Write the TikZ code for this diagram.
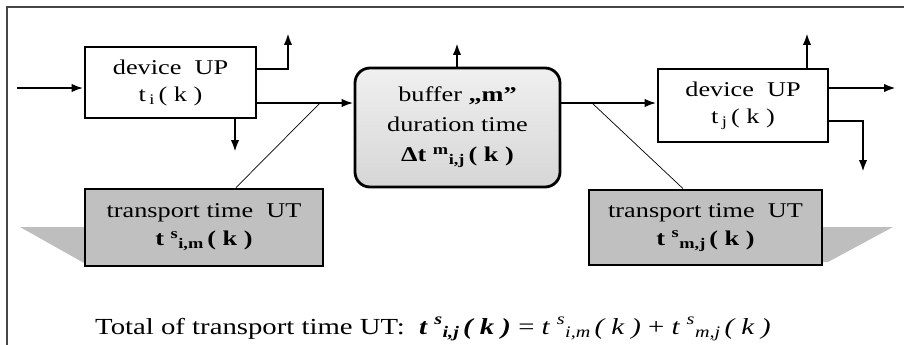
\documentclass[tikz,border=0pt]{standalone}
\usepackage{fontspec}
\setmainfont{Liberation Serif}[FakeStretch=1.25]
\usetikzlibrary{arrows.meta}

\definecolor{boxgray}{RGB}{192,192,192}
\definecolor{shadowgray}{RGB}{190,190,190}
\definecolor{framegray}{RGB}{70,70,70}

\tikzset{
  unitbox/.style={draw=black, line width=2.8pt, fill=white, align=center,
    inner sep=0pt, font=\fontsize{21}{27}\selectfont},
  bufferbox/.style={unitbox, rounded corners=15pt, top color=gray!12,
    bottom color=gray!32, font=\fontsize{21}{30}\selectfont},
  utbox/.style={unitbox, fill=boxgray, font=\fontsize{21}{28}\selectfont},
  flow/.style={line width=2.3pt, -{Latex[length=12pt,width=8.5pt]}},
  callout/.style={line width=0.7pt},
}

\begin{document}
\begin{tikzpicture}[x=1pt,y=-1pt]
\useasboundingbox (0,0) rectangle (904,345);
% The frame, only its top and left sides show
\draw[framegray, line width=1.4pt] (904,7) -- (7,7) -- (7,345);
% The shadows behind the transport boxes
\fill[shadowgray] (86,227) -- (20,227) -- (84,263) -- cycle;
\fill[shadowgray] (821,227) -- (893,227) -- (828,262) -- (821,262) -- cycle;
% The devices and the buffer
\node[unitbox, minimum width=171, minimum height=71] (devi) at (170.5,82.5)
  {device\ \ UP\\t\,\textsubscript{i}\,( k )};
\node[bufferbox, minimum width=205, minimum height=119] (buf) at (457.5,127.5)
  {buffer \textbf{„m”}\\duration time\\\textbf{Δt \textsuperscript{m}\textsubscript{i,j}\,( k )}};
\node[unitbox, minimum width=170, minimum height=73] (devj) at (743,105.5)
  {device\ \ UP\\t\,\textsubscript{j}\,( k )};
% The transport time boxes
\node[utbox, minimum width=238, minimum height=77] (utim) at (204,227.5)
  {transport time\ \ UT\\\textbf{t \textsuperscript{s}\textsubscript{i,m}\,( k )}};
\node[utbox, minimum width=233, minimum height=75] (utmj) at (705.5,227.5)
  {transport time\ \ UT\\\textbf{t \textsuperscript{s}\textsubscript{m,j}\,( k )}};
% Free ends of the arrows
\coordinate (in) at (17,88);
\coordinate (iup) at (288,33);
\coordinate (idown) at (235,152);
\coordinate (bup) at (457,43);
\coordinate (jup) at (807,33);
\coordinate (out) at (896,88);
\coordinate (jdown) at (863,172);
\coordinate (tapi) at (320,103);
\coordinate (tapj) at (592,103);
% The arrows
\draw[flow] (in) -- (in -| devi.west);
\draw[flow] (devi.east |- 0,69) -| (iup);
\draw[flow] (idown |- devi.south) -- (idown);
\draw[flow] (devi.east |- tapi) -- (buf.west |- tapi);
\draw[flow] (bup |- buf.north) -- (bup);
\draw[flow] (buf.east |- tapj) -- (devj.west |- tapj);
\draw[flow] (jup |- devj.north) -- (jup);
\draw[flow] (devj.east |- out) -- (out);
\draw[flow] (devj.east |- 0,121) -| (jdown);
% Thin lines to the transport boxes
\draw[callout] (tapi) -- (utim.north -| 236,0);
\draw[callout] (tapj) -- (utmj.north -| 683,0);
% The sum below
\node[anchor=base west, inner sep=0pt, font=\fontsize{23}{26}\selectfont] (total) at (95,334)
  {Total of transport time UT:\ \ \textbf{\textit{t \textsuperscript{s}\textsubscript{i,j}\,( k )}} = \textit{t \textsuperscript{s}\textsubscript{i,m}\,( k )} + \textit{t \textsuperscript{s}\textsubscript{m,j}\,( k )}};
\end{tikzpicture}
\end{document}
